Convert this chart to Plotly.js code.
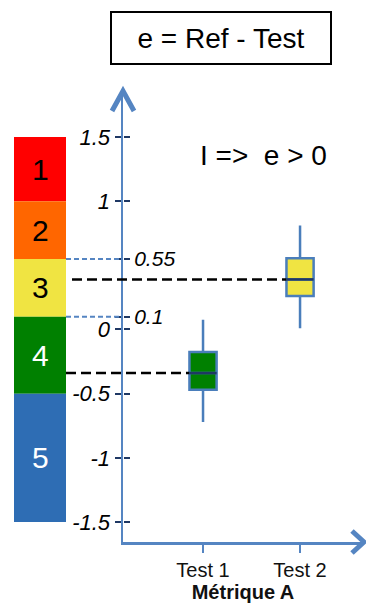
<!DOCTYPE html>
<html>
<head>
<meta charset="utf-8">
<script src="https://cdn.plot.ly/plotly-3.0.1.min.js"></script>
<style>
  html, body { margin: 0; padding: 0; background: #fff; }
  #fig { width: 366px; height: 604px; }
</style>
</head>
<body>
<div id="fig"></div>
<script>
"use strict";

// categories on the x axis
const tests = ["Test 1", "Test 2"];
// box statistics per test (e = Ref - Test)
const lowerW = [-0.72, 0.01];
const q1 = [-0.47, 0.26];
const medians = [-0.34, 0.39];
const q3 = [-0.175, 0.555];
const upperW = [0.075, 0.81];
const boxColors = ["#008000", "#f0e442"];

// quality classes on the left
const classNames = ["1", "2", "3", "4", "5"];
const classEdges = [1.5, 1, 0.55, 0.1, -0.5, -1.5];
const classColors = ["#ff0000", "#ff6600", "#f0e442", "#008000", "#2e6db4"];
const classText = ["#000", "#000", "#000", "#fff", "#fff"];
const thresholds = [0.55, 0.1];

// y ticks: left labels and right (threshold) labels
const yTickVals = [1.5, 1, 0.55, 0.1, 0, -0.5, -1, -1.5];
const yTickLeft = ["1.5", "1", "", "", "0", "-0.5", "-1", "-1.5"];
const yTickRight = ["", "", "0.55", "0.1", "", "", "", ""];

const W = 366, H = 604;
const axisBlue = "#5585c2";
const navy = "#1f3864";
const boxW = 0.28;
const FONT = "Liberation Sans, Arial";

// plot area in pixels
const xDom = [123 / W, 363 / W];
const yDom = [1 - 542 / H, 1 - 90 / H];
const xRange = [-0.825, 1.649];
const yRange = [-1.656, 1.866];

const px = (x) => x / W;            // pixel -> paper
const py = (y) => 1 - y / H;
const xPaper = (v) => xDom[0] + (v - xRange[0]) / (xRange[1] - xRange[0]) * (xDom[1] - xDom[0]);
const ital = (s) => s ? "<i>" + s + "</i>" : "";

let data = [];
tests.forEach((t, i) => {
  data.push({
    type: "box", x: [i], q1: [q1[i]], median: [medians[i]], q3: [q3[i]],
    lowerfence: [lowerW[i]], upperfence: [upperW[i]],
    width: boxW, whiskerwidth: 0, boxpoints: false,
    fillcolor: boxColors[i],
    line: {color: "#4a7ebb", width: 2.5},
    showlegend: false, hoverinfo: "skip"
  });
});
// empty trace so the right-hand overlay axis is drawn
data.push({type: "scatter", x: [], y: [], yaxis: "y2", showlegend: false, hoverinfo: "skip"});

let shapes = [];
let annotations = [];

// colour classes
classNames.forEach((n, i) => {
  shapes.push({type: "rect", xref: "paper", yref: "y", x0: px(14), x1: px(66),
               y0: classEdges[i + 1], y1: classEdges[i],
               fillcolor: classColors[i], line: {width: 0}, layer: "below"});
  annotations.push({text: n, xref: "paper", yref: "y", x: px(40), xanchor: "center",
                    y: (classEdges[i] + classEdges[i + 1]) / 2, yanchor: "middle", showarrow: false,
                    font: {family: FONT, size: 30, color: classText[i]}});
});

// blue dashed class thresholds
thresholds.forEach((t) => {
  shapes.push({type: "line", xref: "paper", yref: "y", x0: px(66), x1: xDom[0],
               y0: t, y1: t, line: {color: axisBlue, width: 2, dash: "5px,3px"}});
});

// black dashed lines from classes to medians
const dashStart = [px(66), px(72)];
medians.forEach((m, i) => {
  shapes.push({type: "line", xref: "paper", yref: "y", x0: dashStart[i], x1: xPaper(i - boxW / 2),
               y0: m, y1: m, line: {color: "#000", width: 2.5, dash: "10px,5px"}});
  shapes.push({type: "line", xref: "x", yref: "y", x0: i - boxW / 2, x1: i + boxW / 2,
               y0: m, y1: m, line: {color: navy, width: 2.5}});
});

// arrow heads on the axes
shapes.push({type: "path", xref: "paper", yref: "paper",
             path: `M${px(112)},${py(111)} L${px(123)},${py(91)} L${px(134)},${py(111)}`,
             line: {color: axisBlue, width: 5}});
shapes.push({type: "path", xref: "paper", yref: "paper",
             path: `M${px(352)},${py(531)} L${px(364)},${py(542)} L${px(352)},${py(553)}`,
             line: {color: axisBlue, width: 5}});

// boxed title and the note
annotations.push({text: "e = Ref - Test", xref: "paper", yref: "paper",
                  x: px(221.5), y: py(38.5), xanchor: "center", yanchor: "middle", showarrow: false,
                  width: 218, height: 50, borderpad: 0,
                  bordercolor: "#000", borderwidth: 2,
                  font: {family: FONT, size: 28, color: "#000"}});
annotations.push({text: "I =>\u00a0 e > 0", xref: "paper", yref: "paper",
                  x: px(263), y: py(155), xanchor: "center", yanchor: "middle", showarrow: false,
                  font: {family: FONT, size: 28, color: "#000"}});

const layout = {
  width: W, height: H,
  margin: {l: 0, r: 0, t: 0, b: 0},
  paper_bgcolor: "#fff", plot_bgcolor: "rgba(0,0,0,0)",
  showlegend: false,
  xaxis: {domain: xDom, range: xRange, tickvals: [0, 1], ticktext: tests,
          showgrid: false, zeroline: false, showline: true,
          linecolor: axisBlue, linewidth: 2.5,
          ticks: "outside", ticklen: 8, tickwidth: 2, tickcolor: axisBlue,
          tickfont: {family: FONT, size: 20, color: "#111"},
          title: {text: "<b>Métrique A</b>", standoff: 4,
                  font: {family: FONT, size: 20, color: "#111"}}},
  yaxis: {domain: yDom, range: yRange, tickvals: yTickVals, ticktext: yTickLeft.map(ital),
          showgrid: false, zeroline: false, showline: true,
          linecolor: axisBlue, linewidth: 2.5,
          ticks: "outside", ticklen: 6, tickwidth: 2, tickcolor: navy,
          tickfont: {family: FONT, size: 22, color: "#000"}},
  yaxis2: {overlaying: "y", anchor: "free", position: xDom[0], side: "right",
           range: yRange, tickvals: yTickVals, ticktext: yTickRight.map(ital),
           showgrid: false, zeroline: false, showline: false,
           ticks: "outside", ticklen: 6, tickwidth: 2, tickcolor: navy,
           tickfont: {family: FONT, size: 21, color: "#000"}},
  shapes: shapes,
  annotations: annotations
};

Plotly.newPlot("fig", data, layout, {staticPlot: true});
</script>
</body>
</html>
